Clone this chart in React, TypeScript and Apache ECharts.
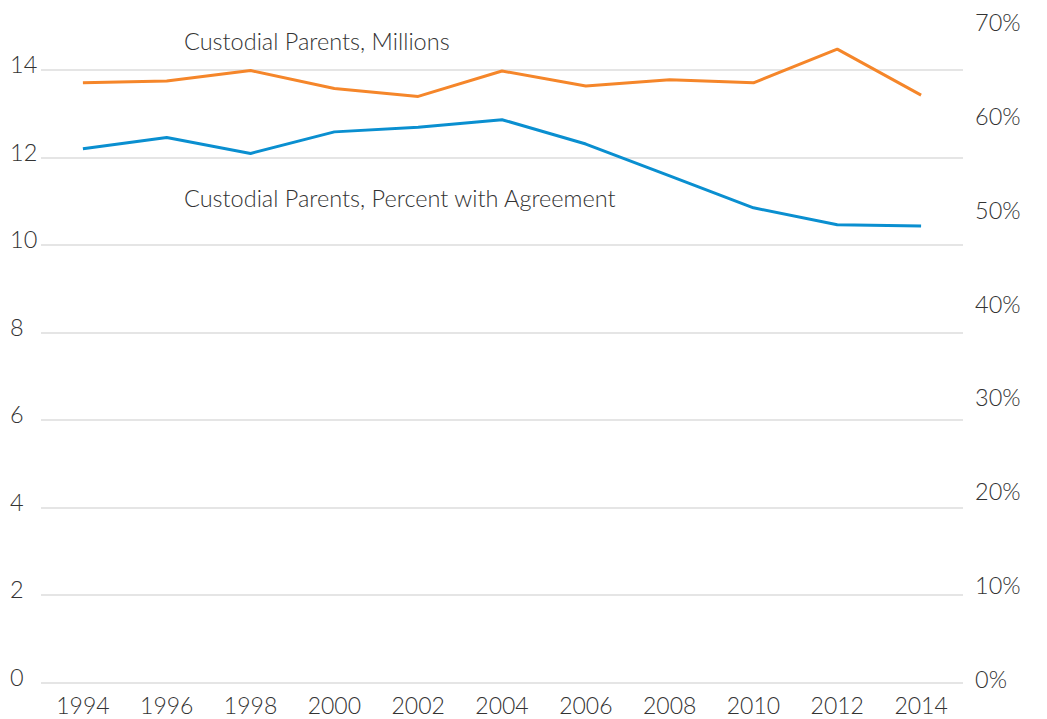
import React, { useEffect, useRef } from "react";
import * as echarts from "echarts";

const years = ["1994", "1996", "1998", "2000", "2002", "2004", "2006", "2008", "2010", "2012", "2014"];
const parentsMillions = [13.71, 13.75, 13.99, 13.58, 13.4, 13.98, 13.64, 13.78, 13.71, 14.48, 13.43];
const percentAgreement = [56.95, 58.15, 56.45, 58.75, 59.25, 60.05, 57.45, 54.05, 50.65, 48.85, 48.7];
const labelMillions = "Custodial Parents, Millions";
const labelPercent = "Custodial Parents, Percent with Agreement";

const FONT = "Lato, 'Open Sans', sans-serif";
const TEXT = "#333333";

export default function App() {
  const ref = useRef<HTMLDivElement>(null);
  useEffect(() => {
    const chart = echarts.init(ref.current!, null, { renderer: "svg" });
    chart.setOption({
      animation: false,
      grid: { left: 41, right: 84, top: 26.4, bottom: 36.3 },
      xAxis: {
        type: "category",
        data: years,
        boundaryGap: true,
        axisLine: { show: false },
        axisTick: { show: false },
        axisLabel: { color: TEXT, fontSize: 23, lineHeight: 23, fontFamily: FONT, fontWeight: 300, margin: 11 },
      },
      yAxis: [
        {
          type: "value",
          min: 0,
          max: 15,
          interval: 2,
          axisLine: { show: false },
          axisTick: { show: false },
          axisLabel: {
            color: TEXT,
            fontSize: 23.5,
            fontFamily: FONT,
            fontWeight: 300,
            align: "left",
            margin: 31,
            showMaxLabel: false,
            verticalAlign: "bottom",
            padding: [0, 0, -6, 0],
          },
          splitLine: { show: true, showMaxLine: false, lineStyle: { color: "#dddddd", width: 1.5 } },
        },
        {
          type: "value",
          min: 0,
          max: 70,
          interval: 10,
          position: "right",
          axisLine: { show: false },
          axisTick: { show: false },
          splitLine: { show: false },
          axisLabel: {
            color: TEXT,
            fontSize: 23.5,
            fontFamily: FONT,
            fontWeight: 300,
            align: "left",
            margin: 12,
            verticalAlign: "bottom",
            padding: [0, 0, -8, 0],
            formatter: "{value}%",
          },
        },
      ],
      series: [
        {
          type: "line",
          data: parentsMillions,
          yAxisIndex: 0,
          symbol: "none",
          lineStyle: { color: "#F5862A", width: 3 },
          itemStyle: { color: "#F5862A" },
        },
        {
          type: "line",
          data: percentAgreement,
          yAxisIndex: 1,
          symbol: "none",
          lineStyle: { color: "#0A8FD0", width: 3 },
          itemStyle: { color: "#0A8FD0" },
        },
      ],
      graphic: [
        {
          type: "text",
          left: 184,
          top: 29,
          style: { text: labelMillions, fill: TEXT, fontSize: 23.5, fontFamily: FONT, fontWeight: 300 },
        },
        {
          type: "text",
          left: 184,
          top: 186,
          style: { text: labelPercent, fill: TEXT, fontSize: 23.5, fontFamily: FONT, fontWeight: 300 },
        },
      ],
    });
    return () => chart.dispose();
  }, []);
  return <div ref={ref} style={{ width: 1047, height: 719, position: "absolute", left: 0, top: 0 }} />;
}
